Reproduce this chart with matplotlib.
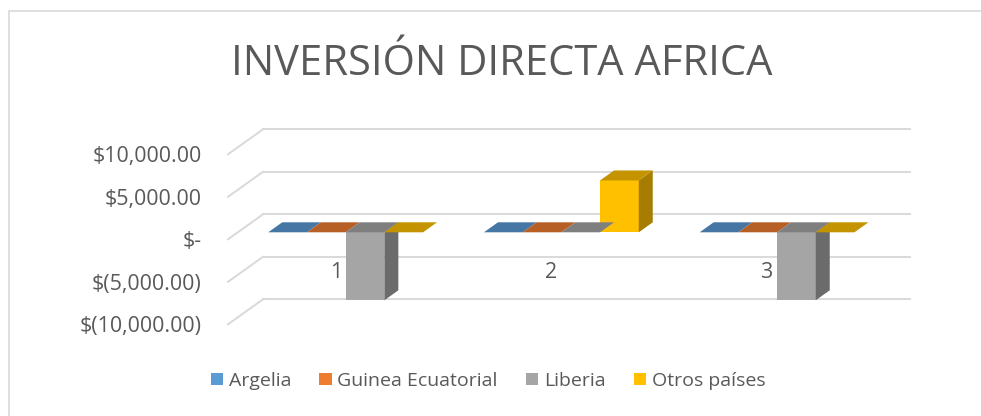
import matplotlib
matplotlib.use('Agg')
import matplotlib.pyplot as plt
from matplotlib.patches import Polygon, Patch, Rectangle
from matplotlib.colors import to_rgb

# datos del grafico
categorias = [1, 2, 3]
series = ['Argelia', 'Guinea Ecuatorial', 'Liberia', 'Otros países']
argelia = [0, 0, 0]
guinea = [0, 0, 0]
liberia = [-8000, 0, -8000]
otros = [0, 6100, 0]
valores = [argelia, guinea, liberia, otros]
ticks_y = [-10000, -5000, 0, 5000, 10000]
etiquetas_y = ['$(10,000.00)', '$(5,000.00)', '$-', '$5,000.00', '$10,000.00']

colores = ['#5B9BD5', '#ED7D31', '#A5A5A5', '#FFC000']
gris_texto = '#595959'
gris_linea = '#D9D9D9'

plt.rcParams['font.family'] = ['Open Sans', 'DejaVu Sans']


def shade(c, f):
    r, g, b = to_rgb(c)
    return (r * f, g * f, b * f)


W, H = 981, 416
fig = plt.figure(figsize=(W / 100, H / 100), dpi=100)

# marco del grafico
fig.add_artist(Rectangle((9 / W, -0.05), 1.0, 1 - 11 / H + 0.05, transform=fig.transFigure,
                         fill=False, edgecolor=gris_linea, linewidth=1.2))

# ejes: plano frontal (profundidad 0)
ax_l, ax_r, ax_t, ax_b = 210, 960, 110, 330
ax = fig.add_axes([ax_l / W, 1 - ax_b / H, (ax_r - ax_l) / W, (ax_b - ax_t) / H])
px_cat = 215.7      # pixeles por categoria
px_val = 0.0085     # pixeles por unidad de valor
x0_px, y0_px = 228, 239.3
ax.set_xlim(0.5 + (ax_l - x0_px) / px_cat, 0.5 + (ax_r - x0_px) / px_cat)
ax.set_ylim((y0_px - ax_b) / px_val, (y0_px - ax_t) / px_val)
for s in ax.spines.values():
    s.set_visible(False)

# profundidad del grafico 3D
DX = 35 / px_cat
DY = 25 / px_val
f1, f2 = 0.28, 0.68   # frente y fondo de las barras

# cuadricula en la pared del fondo y en la pared lateral
n = len(categorias)
for g in ticks_y:
    ax.plot([0.5 + DX, n + 0.5 + DX], [g + DY, g + DY], color=gris_linea, lw=1.4, zorder=1)
    ax.plot([0.5, 0.5 + DX], [g, g + DY], color=gris_linea, lw=1.4, zorder=1)

# barras (cara frontal)
ancho = 38.7 / px_cat
for j, (nombre, vals) in enumerate(zip(series, valores)):
    xs = [c + (j - 1.5) * ancho + f1 * DX for c in categorias]
    ax.bar(xs, vals, width=ancho, bottom=f1 * DY, color=colores[j], linewidth=0, zorder=3)

# caras lateral y superior
for i, c in enumerate(categorias):
    for j in range(len(series)):
        v = valores[j][i]
        xl = c + (j - 2) * ancho
        xr = xl + ancho
        top = max(v, 0)
        bot = min(v, 0)
        if v != 0:
            side = [(xr + f1 * DX, bot + f1 * DY), (xr + f1 * DX, top + f1 * DY),
                    (xr + f2 * DX, top + f2 * DY), (xr + f2 * DX, bot + f2 * DY)]
            ax.add_patch(Polygon(side, closed=True, facecolor=shade(colores[j], 0.65),
                                 edgecolor='none', zorder=4))
        tapa = [(xl + f1 * DX, top + f1 * DY), (xr + f1 * DX, top + f1 * DY),
                (xr + f2 * DX, top + f2 * DY), (xl + f2 * DX, top + f2 * DY)]
        ax.add_patch(Polygon(tapa, closed=True, facecolor=shade(colores[j], 0.77),
                             edgecolor='none', zorder=4))

# etiquetas de ejes
ax.set_yticks(ticks_y)
ax.set_yticklabels(etiquetas_y)
ax.spines['bottom'].set_position(('data', 0))
ax.set_xticks(categorias)
ax.set_xticklabels([str(c) for c in categorias])
ax.tick_params(axis='y', length=0, pad=6, labelsize=15.4, labelcolor=gris_texto)
ax.tick_params(axis='x', length=0, pad=16, labelsize=15.4, labelcolor=gris_texto)

fig.text(502 / W, 1 - 64 / H, 'INVERSIÓN DIRECTA AFRICA', ha='center', va='center',
         fontsize=30, color=gris_texto)

handles = [Patch(facecolor=c, edgecolor='none') for c in colores]
fig.legend(handles, series, loc='center', bbox_to_anchor=(488 / W, 1 - 381 / H), ncol=4,
           frameon=False, fontsize=14, labelcolor=gris_texto, handlelength=0.62,
           handleheight=0.62, handletextpad=0.3, columnspacing=1.45)

fig.savefig('out.png', dpi=100)
